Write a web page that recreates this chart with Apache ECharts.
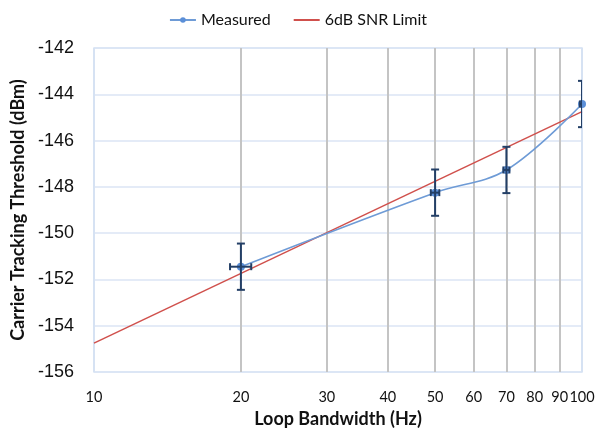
<!DOCTYPE html>
<html><head><meta charset="utf-8">
<script src="https://cdn.jsdelivr.net/npm/echarts@6/dist/echarts.min.js"></script>
<style>html,body{margin:0;padding:0;background:#fff}#c{width:596px;height:433px}</style>
</head><body><div id="c"></div>
<script>
var bandwidth = [20, 50, 70, 100];
var measured = [-151.45, -148.25, -147.27, -144.42];
var errY = [1, 1, 1, 1];
var errX = [1, 1, 1, 1];
var limitX = [10, 100];
var limitY = [-154.75, -144.75];
var xTicks = [10, 20, 30, 40, 50, 60, 70, 80, 90, 100];
var yMin = -156, yMax = -142, yStep = 2;

var chart = echarts.init(document.getElementById('c'));
var measuredData = bandwidth.map(function (b, i) { return [b, measured[i]]; });
var limitData = limitX.map(function (b, i) { return [b, limitY[i]]; });
var errData = bandwidth.map(function (b, i) { return [b, measured[i], errY[i], errX[i]]; });
var navy = '#233f66';
var vGridColors = xTicks.map(function (t, i) { return (i === 0 || i === xTicks.length - 1) ? '#d6e2f3' : '#c4c4c4'; });

chart.setOption({
  animation: false,
  grid: { left: 94, right: 14, top: 48, bottom: 61, show: true, borderColor: '#d6e2f3', borderWidth: 1.5, outerBoundsMode: 'none', containLabel: false },
  legend: {
    top: 7, left: 'center', itemWidth: 26, itemHeight: 7, itemGap: 22,
    textStyle: { fontFamily: 'Lato', fontSize: 16, color: '#111' },
    data: [
      { name: 'Measured' },
      { name: '6dB SNR Limit', itemStyle: { opacity: 0 } }
    ]
  },
  xAxis: {
    type: 'log', logBase: 10, min: 10, max: 100,
    name: 'Loop Bandwidth (Hz)', nameLocation: 'middle', nameGap: 38,
    nameTextStyle: { fontFamily: 'Lato', fontWeight: 'bold', fontSize: 18, color: '#111' },
    axisLine: { show: false },
    axisTick: { show: false, customValues: xTicks },
    axisLabel: { customValues: xTicks, fontFamily: 'Lato', fontSize: 14.5, color: '#111', margin: 18, interval: 0, hideOverlap: false },
    splitLine: { show: true, lineStyle: { color: vGridColors, width: 2 } }
  },
  yAxis: {
    type: 'value', min: yMin, max: yMax, interval: yStep,
    name: 'Carrier Tracking Threshold (dBm)', nameLocation: 'middle', nameGap: 67,
    nameTextStyle: { fontFamily: 'Lato', fontWeight: 'bold', fontSize: 18, color: '#111' },
    axisLine: { show: false }, axisTick: { show: false },
    axisLabel: { fontFamily: 'Liberation Sans', fontSize: 18, color: '#111', margin: 20 },
    splitLine: { show: true, lineStyle: { color: '#dbe5f4', width: 1.5 } }
  },
  series: [
    {
      name: '6dB SNR Limit', type: 'line', data: limitData, symbol: 'none',
      lineStyle: { color: '#d0504c', width: 1.5 }, itemStyle: { color: '#d0504c' }, z: 3
    },
    {
      name: 'Measured', type: 'line', data: measuredData, smooth: 0.35,
      symbol: 'circle', symbolSize: 8,
      lineStyle: { color: '#6e9bd6', width: 1.6 }, itemStyle: { color: '#5b8fd8' }, z: 4
    },
    {
      name: 'err', type: 'custom', clip: true, z: 5,
      data: errData,
      renderItem: function (params, api) {
        var x = api.value(0), y = api.value(1), ey = api.value(2), ex = api.value(3);
        var top = api.coord([x, y + ey]);
        var bot = api.coord([x, y - ey]);
        var lft = api.coord([x - ex, y]);
        var rgt = api.coord([x + ex, y]);
        var cw = 4, ch = 3.5;
        var st = { stroke: navy, lineWidth: 2 };
        return {
          type: 'group',
          children: [
            { type: 'line', shape: { x1: top[0], y1: top[1], x2: bot[0], y2: bot[1] }, style: st },
            { type: 'line', shape: { x1: top[0] - cw, y1: top[1], x2: top[0] + cw, y2: top[1] }, style: st },
            { type: 'line', shape: { x1: bot[0] - cw, y1: bot[1], x2: bot[0] + cw, y2: bot[1] }, style: st },
            { type: 'line', shape: { x1: lft[0], y1: lft[1], x2: rgt[0], y2: rgt[1] }, style: st },
            { type: 'line', shape: { x1: lft[0], y1: lft[1] - ch, x2: lft[0], y2: lft[1] + ch }, style: st },
            { type: 'line', shape: { x1: rgt[0], y1: rgt[1] - ch, x2: rgt[0], y2: rgt[1] + ch }, style: st }
          ]
        };
      }
    }
  ]
});
</script></body></html>
